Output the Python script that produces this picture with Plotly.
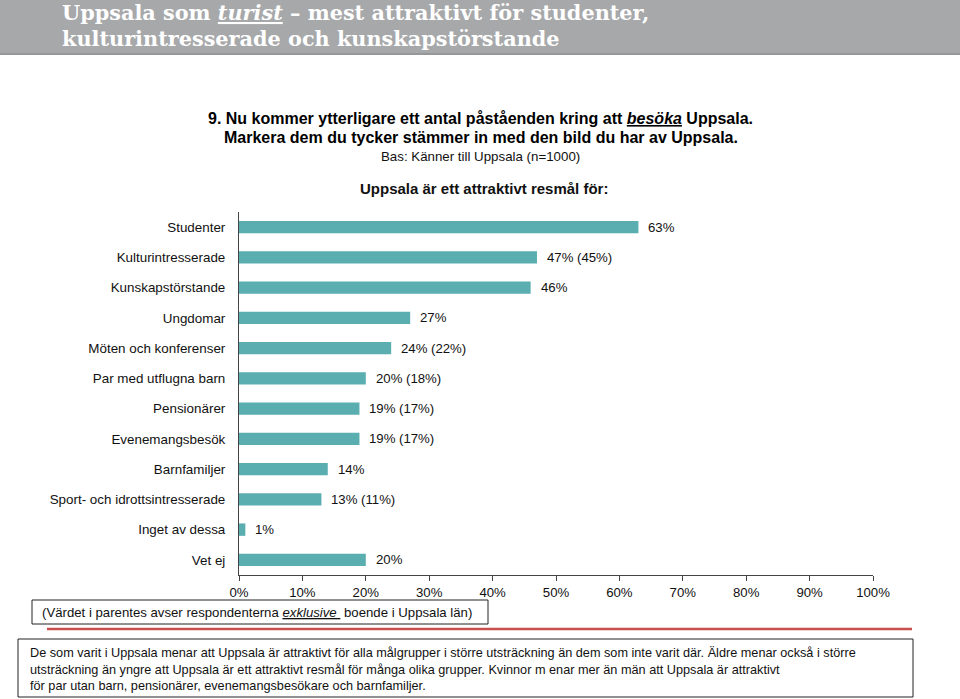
import plotly.graph_objects as go

categories = ["Studenter", "Kulturintresserade", "Kunskapstörstande", "Ungdomar",
              "Möten och konferenser", "Par med utflugna barn", "Pensionärer",
              "Evenemangsbesök", "Barnfamiljer", "Sport- och idrottsintresserade",
              "Inget av dessa", "Vet ej"]
values = [63, 47, 46, 27, 24, 20, 19, 19, 14, 13, 1, 20]
values_excl = [None, 45, None, None, 22, 18, 17, 17, None, 11, None, None]
x_ticks = [0, 10, 20, 30, 40, 50, 60, 70, 80, 90, 100]

W, H = 960, 699
L, R, T, B = 239, 873, 212, 575
FONT = "Liberation Sans, Arial, sans-serif"
BAR = "#5aaeb0"


def px(x):
    return (x - L) / (R - L)


def py(y):
    return (B - y) / (B - T)


fig = go.Figure()
fig.add_trace(go.Bar(
    y=categories, x=values, orientation="h",
    marker=dict(color=BAR, line=dict(width=0)),
    width=0.41, hoverinfo="skip",
))

annotations = []
for c, v, e in zip(categories, values, values_excl):
    t = f"{v}%" if e is None else f"{v}% ({e}%)"
    annotations.append(dict(x=v, y=c, xref="x", yref="y", text=t, showarrow=False,
                            xanchor="left", yanchor="middle", xshift=8,
                            font=dict(family=FONT, size=13.2, color="#111")))

HFONT = dict(family="DejaVu Serif, serif", size=20.8, color="white")
annotations.append(dict(x=px(60), y=py(12), xref="paper", yref="paper",
                        text="<b>Uppsala som <i><u>turist</u></i> – mest attraktivt för studenter,</b>",
                        showarrow=False, xanchor="left", yanchor="middle", font=HFONT))
annotations.append(dict(x=px(60), y=py(39), xref="paper", yref="paper",
                        text="<b>kulturintresserade och kunskapstörstande</b>",
                        showarrow=False, xanchor="left", yanchor="middle", font=HFONT))
annotations.append(dict(x=px(480), y=py(118), xref="paper", yref="paper",
                        text="<b>9. Nu kommer ytterligare ett antal påståenden kring att <i><u>besöka</u></i> Uppsala.</b>",
                        showarrow=False, xanchor="center", yanchor="middle",
                        font=dict(family=FONT, size=16, color="#000")))
annotations.append(dict(x=px(481), y=py(137), xref="paper", yref="paper",
                        text="<b>Markera dem du tycker stämmer in med den bild du har av Uppsala.</b>",
                        showarrow=False, xanchor="center", yanchor="middle",
                        font=dict(family=FONT, size=16, color="#000")))
annotations.append(dict(x=px(480), y=py(157), xref="paper", yref="paper",
                        text="Bas: Känner till Uppsala (n=1000)",
                        showarrow=False, xanchor="center", yanchor="middle",
                        font=dict(family=FONT, size=13.3, color="#111")))
annotations.append(dict(x=px(484), y=py(188), xref="paper", yref="paper",
                        text="<b>Uppsala är ett attraktivt resmål för:</b>",
                        showarrow=False, xanchor="center", yanchor="middle",
                        font=dict(family=FONT, size=15, color="#111")))
annotations.append(dict(x=px(40), y=py(612), xref="paper", yref="paper",
                        text="(Värdet i parentes avser respondenterna <i><u>exklusive </u></i> boende i Uppsala län)",
                        showarrow=False, xanchor="left", yanchor="middle",
                        font=dict(family=FONT, size=13.2, color="#111")))
annotations.append(dict(x=px(28), y=py(669), xref="paper", yref="paper",
                        text=("De som varit i Uppsala menar att Uppsala är attraktivt för alla målgrupper i större utsträckning än dem som inte varit där. Äldre menar också i större<br>"
                              "utsträckning än yngre att Uppsala är ett attraktivt resmål för många olika grupper. Kvinnor m enar mer än män att Uppsala är attraktivt<br>"
                              "för par utan barn, pensionärer, evenemangsbesökare och barnfamiljer."),
                        showarrow=False, xanchor="left", yanchor="middle", align="left",
                        font=dict(family=FONT, size=12.7, color="#111")))

shapes = [
    dict(type="rect", xref="paper", yref="paper", x0=px(0), x1=px(960), y0=py(0), y1=py(53),
         fillcolor="#a7a8aa", line=dict(width=0), layer="below"),
    dict(type="line", xref="paper", yref="paper", x0=px(0), x1=px(960), y0=py(54), y1=py(54),
         line=dict(color="#969799", width=2)),
    dict(type="rect", xref="paper", yref="paper", x0=px(32), x1=px(488), y0=py(600), y1=py(624),
         fillcolor="rgba(0,0,0,0)", line=dict(color="#222", width=1)),
    dict(type="line", xref="paper", yref="paper", x0=px(47), x1=px(912), y0=py(629), y1=py(629),
         line=dict(color="#c9504f", width=2.5)),
    dict(type="rect", xref="paper", yref="paper", x0=px(18), x1=px(913), y0=py(639), y1=py(697),
         fillcolor="rgba(0,0,0,0)", line=dict(color="#222", width=1)),
]

fig.update_layout(
    width=W, height=H, margin=dict(l=L, r=W - R, t=T, b=H - B, pad=0),
    paper_bgcolor="white", plot_bgcolor="white", showlegend=False,
    annotations=annotations, shapes=shapes,
    xaxis=dict(range=[0, 100], tickvals=x_ticks, ticktext=[f"{t}%" for t in x_ticks],
               showgrid=False, zeroline=False, showline=True, linecolor="#444", linewidth=1,
               ticks="outside", ticklen=5, tickcolor="#444",
               tickfont=dict(family=FONT, size=13.2, color="#111"), fixedrange=True),
    yaxis=dict(type="category", categoryorder="array", categoryarray=categories,
               range=[11.5, -0.5], showgrid=False, zeroline=False, showline=True,
               linecolor="#444", linewidth=1, ticks="", ticklabelstandoff=10,
               tickfont=dict(family=FONT, size=13.4, color="#111"), fixedrange=True),
)

fig.write_html("out.html", config={"displayModeBar": False},
               post_script="document.body.style.margin='0';document.body.style.overflow='hidden';")
